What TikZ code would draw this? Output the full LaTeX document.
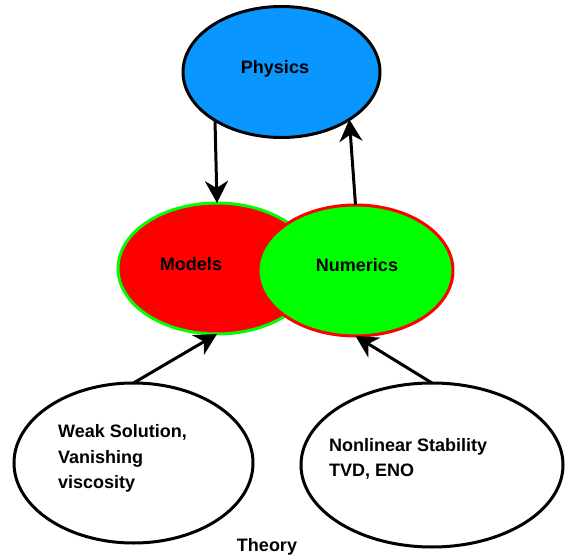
\documentclass[tikz,border=0pt]{standalone}
\usepackage{fontspec}
\setmainfont{Liberation Sans}
\usetikzlibrary{shapes.geometric,arrows.meta}
\definecolor{physblue}{RGB}{10,150,255}
\definecolor{pured}{RGB}{255,0,0}
\definecolor{puregreen}{RGB}{0,255,0}

\begin{document}
\begin{tikzpicture}[x=1pt,y=-1pt,
  blob/.style={ellipse,line width=3pt,inner sep=0pt,outer sep=0pt},
  arr/.style={line width=3pt,-{Stealth[length=22pt,width=23pt,inset=7pt]}},
  txt/.style={font=\fontsize{18}{25.5}\selectfont\bfseries,inner sep=0pt}]

\useasboundingbox (0,0) rectangle (565,556);

%Physics
\node[blob,draw=black,fill=physblue,minimum width=197pt,minimum height=131pt] (physics) at (281.5,72) {};
\node[txt] (physicstxt) at (275,69) {Physics};

%Models
\node[blob,draw=puregreen,fill=pured,minimum width=198pt,minimum height=131pt] (models) at (217,268.5) {};
\node[txt] (modelstxt) at (191,264) {Models};

%Numerics (on top of models)
\node[blob,draw=pured,fill=puregreen,minimum width=195pt,minimum height=131pt] (numerics) at (355.5,270.5) {};
\node[txt] (numericstxt) at (357,265) {Numerics};

% Theory, left
\node[blob,draw=black,fill=white,minimum width=239pt,minimum height=160pt] (weak) at (133.5,463) {};
\node[txt,anchor=west,align=left] (weaktxt) at (58,458.5) {Weak Solution,\\Vanishing\\viscosity};

% Theory, right
\node[blob,draw=black,fill=white,minimum width=262pt,minimum height=164pt] (stab) at (432,465) {};
\node[txt,anchor=west,align=left] (stabtxt) at (329,459) {Nonlinear Stability\\TVD, ENO};

\node[txt] (theory) at (267,547) {Theory};

%Arrows
\draw[arr] (physics.216) -- (models.north);
\draw[arr] (numerics.north) -- (physics.-35);
\draw[arr] (weak.north) -- (models.south);
\draw[arr] (stab.north) -- (numerics.south);

\end{tikzpicture}
\end{document}
